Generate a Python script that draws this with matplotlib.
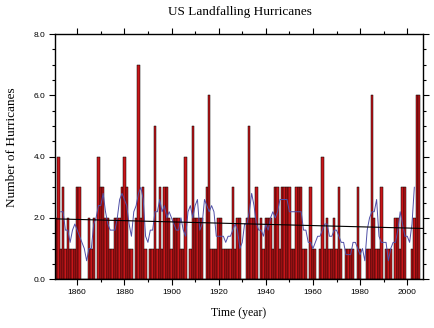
import numpy as np
import matplotlib.pyplot as plt
from matplotlib.ticker import MultipleLocator

# landfalling hurricanes per year (1851-2005)
years = np.arange(1851, 2006)
counts = [
    2, 4, 1, 3, 1, 2, 1, 1, 1, 3,   # 1851-1860
    3, 0, 0, 0, 2, 1, 2, 0, 4, 3,   # 1861-1870
    3, 2, 2, 1, 1, 2, 2, 2, 3, 4,   # 1871-1880
    3, 1, 1, 0, 2, 7, 2, 3, 1, 0,   # 1881-1890
    1, 1, 5, 1, 3, 1, 3, 3, 2, 1,   # 1891-1900
    2, 2, 2, 1, 1, 4, 0, 1, 5, 2,   # 1901-1910
    2, 2, 2, 0, 3, 6, 1, 1, 1, 2,   # 1911-1920
    2, 1, 1, 1, 1, 3, 1, 2, 2, 0,   # 1921-1930
    0, 2, 5, 2, 2, 3, 0, 2, 1, 2,   # 1931-1940
    2, 2, 1, 3, 3, 1, 3, 3, 3, 3,   # 1941-1950
    1, 1, 3, 3, 3, 1, 1, 0, 3, 1,   # 1951-1960
    1, 0, 1, 4, 1, 2, 1, 1, 2, 1,   # 1961-1970
    3, 1, 0, 1, 1, 1, 1, 0, 3, 1,   # 1971-1980
    0, 0, 1, 1, 6, 2, 1, 1, 3, 0,   # 1981-1990
    1, 1, 1, 0, 2, 2, 1, 3, 3, 0,   # 1991-2000
    0, 1, 2, 6, 6,                  # 2001-2005
]
xticks = [1860, 1880, 1900, 1920, 1940, 1960, 1980, 2000]
yticks = [0.0, 2.0, 4.0, 6.0, 8.0]

counts = np.array(counts, dtype=float)

# 5 year running mean and least squares trend
run_mean = np.convolve(counts, np.ones(5) / 5, mode='valid')
run_years = years[2:-2]
slope, icpt = np.polyfit(years, counts, 1)
xmin, xmax = 1850.5, 2006.6
trend_x = np.array([xmin, xmax])

fig = plt.figure(figsize=(4.35, 3.28), dpi=100)
ax = fig.add_axes([0.126, 0.149, 0.846, 0.747])

ax.bar(years, counts, width=1.0, color='#c8161a', edgecolor='black', linewidth=0.35)
ax.plot(run_years, run_mean, color='#5050a8', linewidth=0.7)
ax.plot(trend_x, slope * trend_x + icpt, color='black', linewidth=0.8)

ax.set_xlim(xmin, xmax)
ax.set_ylim(0, 8)
ax.set_xticks(xticks)
ax.set_xticklabels([str(y) for y in xticks])
ax.set_yticks(yticks)
ax.set_yticklabels(['%.1f' % v for v in yticks])
ax.xaxis.set_minor_locator(MultipleLocator(10))
ax.yaxis.set_minor_locator(MultipleLocator(0.5))
ax.tick_params(which='both', direction='out', top=True, right=True, width=0.8,
               labelsize=6, pad=3)
ax.tick_params(which='major', length=4)
ax.tick_params(which='minor', length=2.5)
for lab in ax.get_xticklabels() + ax.get_yticklabels():
    lab.set_family('Liberation Sans')
for sp in ax.spines.values():
    sp.set_linewidth(1.0)

serif = 'Liberation Serif'
fig.text(0.552, 0.962, 'US Landfalling Hurricanes', ha='center', va='center',
         family=serif, fontsize=9.5)
ax.set_xlabel('Time (year)', family=serif, fontsize=8.5, labelpad=8)
ax.set_ylabel('Number of Hurricanes', family=serif, fontsize=9.5)
ax.yaxis.set_label_coords(-0.10, 0.54)

fig.savefig('out.png', dpi=100)
